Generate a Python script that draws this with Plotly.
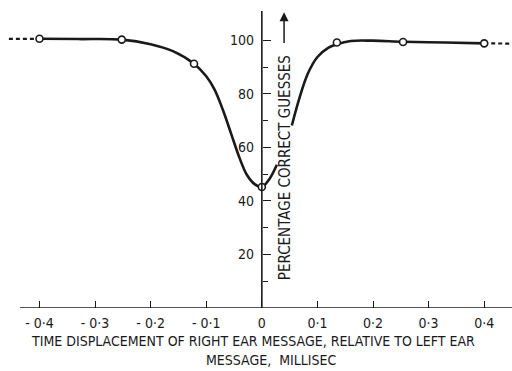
import plotly.graph_objects as go

# measured points (open circles)
pts_x = [-0.4, -0.252, -0.122, 0.0, 0.135, 0.254, 0.4]
pts_y = [100.6, 100.3, 91.3, 45.2, 99.2, 99.4, 98.9]

# fitted curve, left branch (solid)
left_x = [-0.4, -0.33, -0.252, -0.2, -0.16, -0.122, -0.1, -0.085, -0.07, -0.055, -0.04, -0.027, -0.013, 0.0, 0.014, 0.027]
left_y = [100.6, 100.5, 100.3, 98.6, 96.0, 91.3, 86.6, 81.6, 74.0, 65.0, 56.0, 49.8, 46.3, 45.2, 48.3, 53.5]

# fitted curve, right branch (solid)
right_x = [0.054, 0.068, 0.083, 0.1, 0.12, 0.135, 0.16, 0.2, 0.254, 0.33, 0.4]
right_y = [68.2, 78.7, 87.7, 93.8, 97.3, 98.6, 99.8, 99.9, 99.5, 99.2, 98.9]

# dashed extrapolations
dash_l_x = [-0.455, -0.4]
dash_l_y = [100.6, 100.6]
dash_r_x = [0.4, 0.452]
dash_r_y = [98.9, 98.8]

x_ticks = [-0.4, -0.3, -0.2, -0.1, 0.0, 0.1, 0.2, 0.3, 0.4]
x_labels = ["- 0·4", "- 0·3", "- 0·2", "- 0·1", "0", "0·1", "0·2", "0·3", "0·4"]
y_ticks = [20, 40, 60, 80, 100]
y_labels = ["20", "40", "60", "80", "100"]

FONT = "DejaVu Sans Condensed, Liberation Sans Narrow, sans-serif"
INK = "#1a1a1a"

fig = go.Figure()
fig.add_trace(go.Scatter(x=left_x, y=left_y, mode="lines",
                         line=dict(color=INK, width=2.6, shape="spline", smoothing=1.0)))
fig.add_trace(go.Scatter(x=right_x, y=right_y, mode="lines",
                         line=dict(color=INK, width=2.6, shape="spline", smoothing=1.0)))
fig.add_trace(go.Scatter(x=dash_l_x, y=dash_l_y, mode="lines",
                         line=dict(color=INK, width=2.2, dash="4px,3px")))
fig.add_trace(go.Scatter(x=dash_r_x, y=dash_r_y, mode="lines",
                         line=dict(color=INK, width=2.2, dash="4px,3px")))
fig.add_trace(go.Scatter(x=pts_x, y=pts_y, mode="markers",
                         marker=dict(symbol="circle", size=7, color="white",
                                     line=dict(color=INK, width=1.6))))

# axis lines
fig.add_shape(type="line", xref="x", yref="y", x0=-0.435, x1=0.452, y0=0, y1=0,
              line=dict(color=INK, width=1.6))
fig.add_shape(type="line", xref="x", yref="y", x0=0, x1=0, y0=0, y1=111,
              line=dict(color=INK, width=1.6))

# y-axis title with arrow
fig.add_annotation(xref="x", yref="y", x=0.041, y=52.5, text="PERCENTAGE CORRECT GUESSES",
                   textangle=-90, showarrow=False, xanchor="center", yanchor="middle",
                   font=dict(family=FONT, size=15, color=INK))
fig.add_annotation(xref="x", yref="y", x=0.04, y=110.5, ax=0.04, ay=98.5,
                   axref="x", ayref="y", text="", showarrow=True,
                   arrowhead=2, arrowsize=1.2, arrowwidth=1.5, arrowcolor=INK)

# x-axis title
fig.add_annotation(xref="paper", yref="paper", x=0.495, y=-0.108, yanchor="middle",
                   text="TIME DISPLACEMENT OF RIGHT EAR MESSAGE, RELATIVE TO LEFT EAR",
                   showarrow=False, font=dict(family=FONT, size=14, color=INK))
fig.add_annotation(xref="paper", yref="paper", x=0.53, y=-0.17, yanchor="middle",
                   text="MESSAGE,  MILLISEC",
                   showarrow=False, font=dict(family=FONT, size=14, color=INK))

fig.update_layout(
    width=512, height=371,
    margin=dict(l=0, r=0, t=0, b=63),
    paper_bgcolor="white", plot_bgcolor="white",
    showlegend=False,
    xaxis=dict(range=[-0.471, 0.450], showgrid=False, zeroline=False, showline=False,
               tickvals=x_ticks, ticktext=x_labels, ticks="inside", ticklen=7,
               tickwidth=1.3, tickcolor=INK, ticklabelstandoff=5,
               tickfont=dict(family=FONT, size=14, color=INK)),
    yaxis=dict(range=[0, 115.1], showgrid=False, zeroline=False, showline=False,
               anchor="free", position=262 / 512, side="left",
               tickvals=y_ticks, ticktext=y_labels, ticks="inside", ticklen=8,
               tickwidth=1.3, tickcolor=INK, ticklabelstandoff=8,
               minor=dict(tickvals=[10, 30, 50, 70, 90], ticks="inside", ticklen=5,
                          tickcolor=INK, tickwidth=1.2),
               tickfont=dict(family=FONT, size=14, color=INK)),
)

fig.write_html("out.html")
